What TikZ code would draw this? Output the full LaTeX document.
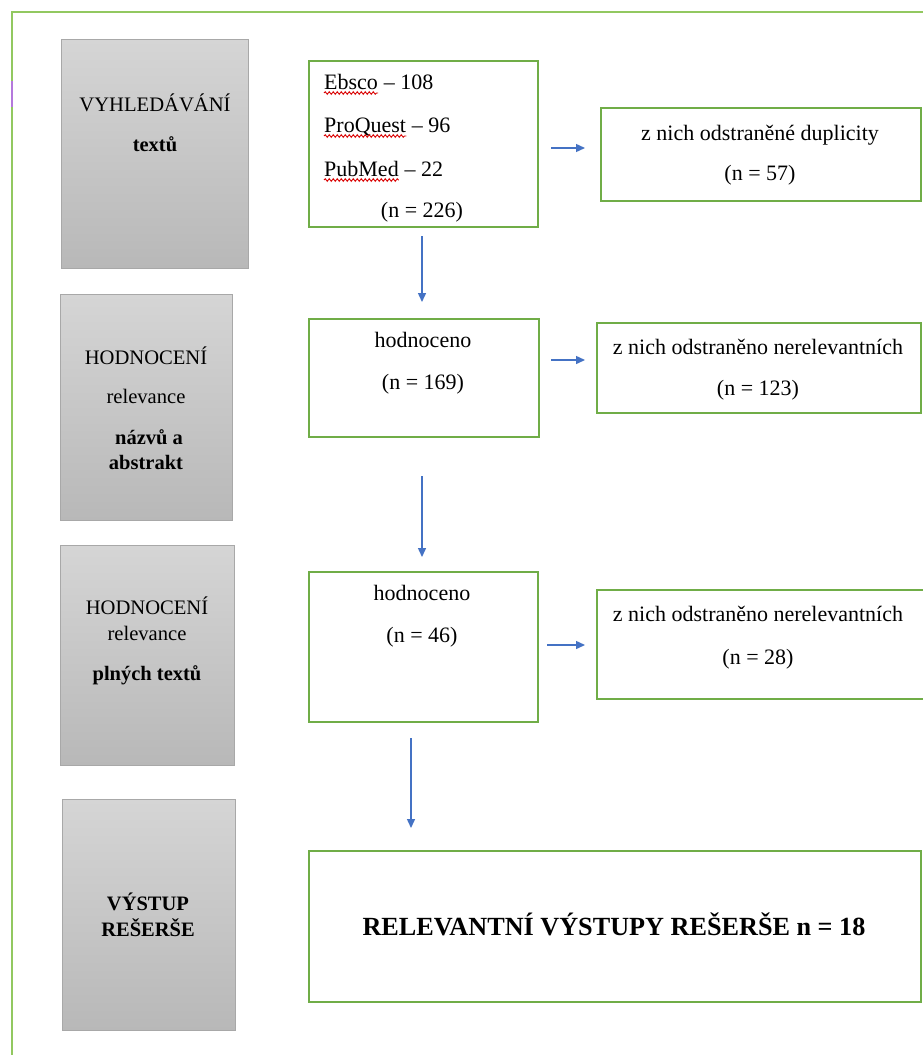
\documentclass[tikz,border=0pt]{standalone}
\usepackage{fontspec}
\setmainfont{Liberation Serif}
\usetikzlibrary{arrows.meta,decorations.pathmorphing}
\definecolor{boxgreen}{RGB}{112,173,71}
\definecolor{framegreen}{RGB}{146,200,96}
\definecolor{arrblue}{RGB}{68,114,196}
\definecolor{graytop}{RGB}{213,213,213}
\definecolor{graybot}{RGB}{184,184,184}
\definecolor{grayedge}{RGB}{168,168,168}
\definecolor{marklila}{RGB}{180,120,220}
\tikzset{
  stagebox/.style={draw=grayedge, line width=1.2pt, top color=graytop, bottom color=graybot, rectangle, inner sep=0pt, anchor=north west},
  gbox/.style={draw=boxgreen, line width=1.6pt, fill=white, rectangle, inner sep=0pt, anchor=north west},
  txt/.style={font=\fontsize{22}{24}\selectfont, inner sep=0pt, anchor=base},
  stxt/.style={font=\fontsize{20.6}{23}\selectfont, inner sep=0pt, anchor=base},
  btxt/.style={font=\fontsize{20.5}{23}\selectfont\bfseries, inner sep=0pt, anchor=base},
  bigtxt/.style={font=\fontsize{26.2}{29}\selectfont\bfseries, inner sep=0pt, anchor=base},
  arr/.style={draw=arrblue, line width=1.4pt, -{Triangle[length=9pt,width=8pt]}},
  wavy/.style={draw=red!85!black, line width=0.9pt, decorate, decoration={snake, amplitude=1.3pt, segment length=4pt}}
}
\begin{document}
\begin{tikzpicture}[x=1pt,y=-1pt]
\useasboundingbox (0,0) rectangle (922,1055);
\fill[white] (0,0) rectangle (922,1055);
% outer frame
\draw[framegreen, line width=2pt] (12,12) rectangle (940,1075);
\draw[marklila, line width=2.4pt] (12,81) -- (12,107);

% left stage boxes
\node[stagebox, minimum width=187pt, minimum height=229pt] (s1) at (61,39) {};
\node[stagebox, minimum width=172pt, minimum height=226pt] (s2) at (60,294) {};
\node[stagebox, minimum width=174pt, minimum height=220pt] (s3) at (60,545) {};
\node[stagebox, minimum width=173pt, minimum height=231pt] (s4) at (62,799) {};

\node[stxt] (s1a) at (155,111) {VYHLEDÁVÁNÍ};
\node[btxt] (s1b) at (155,151) {textů};

\node[stxt] (s2a) at (146,364) {HODNOCENÍ};
\node[stxt] (s2b) at (146,403) {relevance};
\node[btxt] (s2c) at (149,444) {názvů a};
\node[btxt] (s2d) at (146,469) {abstrakt};

\node[stxt] (s3a) at (147,614) {HODNOCENÍ};
\node[stxt] (s3b) at (147,640) {relevance};
\node[btxt] (s3c) at (147,680) {plných textů};

\node[btxt] (s4a) at (148,910) {VÝSTUP};
\node[btxt] (s4b) at (148,936) {REŠERŠE};

% middle boxes
\node[gbox, minimum width=229pt, minimum height=166pt] (m1) at (308,60) {};
\node[gbox, minimum width=230pt, minimum height=118pt] (m2) at (308,318) {};
\node[gbox, minimum width=229pt, minimum height=150pt] (m3) at (308,571) {};
\node[gbox, minimum width=612pt, minimum height=151pt] (m4) at (308,850) {};

\node[txt, anchor=base west] (eb) at (324,89) {Ebsco};
\node[txt, anchor=base west] (ebn) at (eb.base east) {\hspace{0.25em}– 108};
\node[txt, anchor=base west] (pq) at (324,132) {ProQuest};
\node[txt, anchor=base west] (pqn) at (pq.base east) {\hspace{0.25em}– 96};
\node[txt, anchor=base west] (pm) at (324,176) {PubMed};
\node[txt, anchor=base west] (pmn) at (pm.base east) {\hspace{0.25em}– 22};
\node[txt] (m1n) at (422,217) {(n = 226)};
\draw[wavy] ([yshift=-4pt]eb.base west) -- ([yshift=-4pt]eb.base east);
\draw[wavy] ([yshift=-4pt]pq.base west) -- ([yshift=-4pt]pq.base east);
\draw[wavy] ([yshift=-4pt]pm.base west) -- ([yshift=-4pt]pm.base east);

\node[txt] (m2a) at (423,347) {hodnoceno};
\node[txt] (m2b) at (423,389) {(n = 169)};
\node[txt] (m3a) at (422,600) {hodnoceno};
\node[txt] (m3b) at (422,642) {(n = 46)};
\node[bigtxt] (m4a) at (614,935) {RELEVANTNÍ VÝSTUPY REŠERŠE n = 18};

% right boxes
\node[gbox, minimum width=320pt, minimum height=93pt] (r1) at (600,107) {};
\node[gbox, minimum width=324pt, minimum height=90pt] (r2) at (596,322) {};
\node[gbox, minimum width=330pt, minimum height=109pt] (r3) at (596,589) {};

\node[txt] (r1a) at (760,140) {z nich odstraněné duplicity};
\node[txt] (r1b) at (760,180) {(n = 57)};
\node[txt] (r2a) at (758,354) {z nich odstraněno nerelevantních};
\node[txt] (r2b) at (758,395) {(n = 123)};
\node[txt] (r3a) at (758,621) {z nich odstraněno nerelevantních};
\node[txt] (r3b) at (758,664) {(n = 28)};

% connector end points
\coordinate (h1s) at (551,148); \coordinate (h1e) at (585,148);
\coordinate (h2s) at (551,360); \coordinate (h2e) at (585,360);
\coordinate (h3s) at (547,645); \coordinate (h3e) at (585,645);
\coordinate (v1s) at (422,236); \coordinate (v1e) at (422,302);
\coordinate (v2s) at (422,476); \coordinate (v2e) at (422,557);
\coordinate (v3s) at (411,738); \coordinate (v3e) at (411,828);

\draw[arr] (h1s) -- (h1e);
\draw[arr] (h2s) -- (h2e);
\draw[arr] (h3s) -- (h3e);
\draw[arr] (v1s) -- (v1e);
\draw[arr] (v2s) -- (v2e);
\draw[arr] (v3s) -- (v3e);
\end{tikzpicture}
\end{document}
